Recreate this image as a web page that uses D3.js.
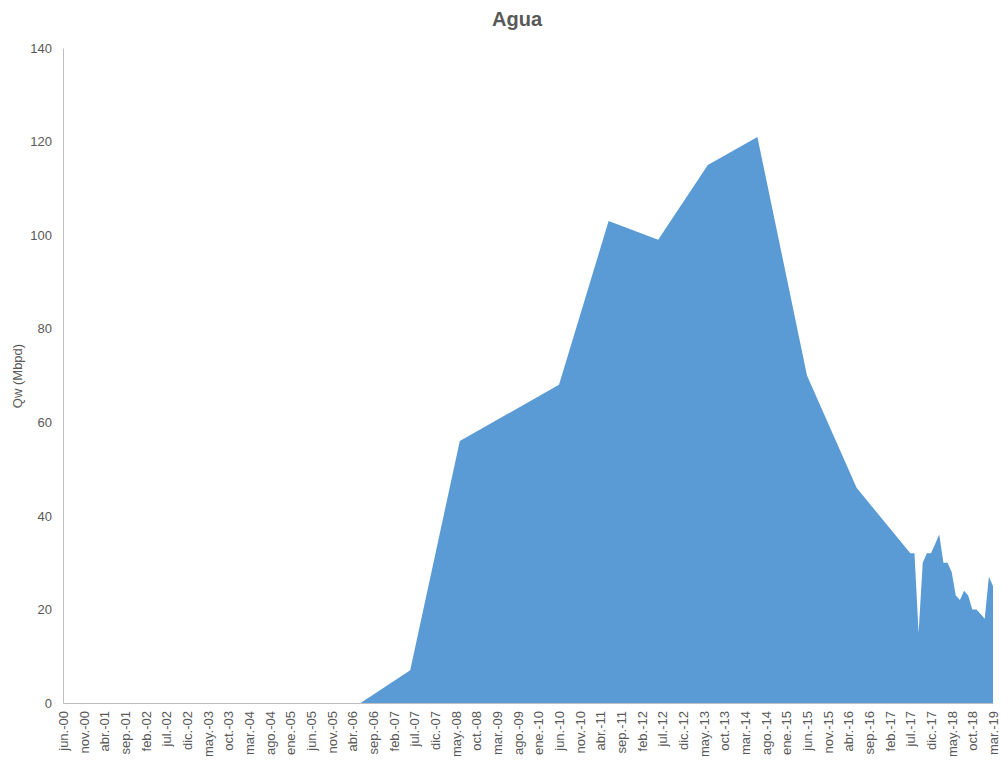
<!DOCTYPE html>
<html>
<head>
<meta charset="utf-8">
<script src="https://cdn.jsdelivr.net/npm/d3@7"></script>
<style>
  body { margin: 0; background: #fff; }
  text { font-family: "Liberation Sans", Arial, sans-serif; }
</style>
</head>
<body>
<svg id="chart" width="1001" height="762"></svg>
<script>
// Month names (Spanish abbreviations) and category range
const monthNames = ["ene.", "feb.", "mar.", "abr.", "may.", "jun.", "jul.", "ago.", "sep.", "oct.", "nov.", "dic."];
const startYear = 2000, startMonth = 5;   // jun.-00
const endYear = 2019, endMonth = 2;       // mar.-19
const categories = [];
for (let yy = startYear, m = startMonth; yy < endYear || (yy === endYear && m <= endMonth); ) {
  categories.push(monthNames[m] + "-" + String(yy % 100).padStart(2, "0"));
  m++; if (m === 12) { m = 0; yy++; }
}
const tickEvery = 5;

// Series: dates with data and their water rates (Mbpd)
const pointDates = ["jun.-00", "jun.-01", "jun.-02", "jun.-03", "jun.-04", "jun.-05", "jun.-06",
  "jun.-07", "jun.-08", "jun.-10", "jun.-11", "jun.-12", "jun.-13", "jun.-14", "jun.-15", "jun.-16",
  "jul.-17", "ago.-17", "sep.-17", "oct.-17", "nov.-17", "dic.-17", "ene.-18", "feb.-18", "mar.-18",
  "abr.-18", "may.-18", "jun.-18", "jul.-18", "ago.-18", "sep.-18", "oct.-18", "nov.-18", "dic.-18",
  "ene.-19", "feb.-19", "mar.-19"];
const qwValues = [0, 0, 0, 0, 0, 0, 0,
  7, 56, 68, 103, 99, 115, 121, 70, 46,
  32, 32, 15, 30, 32, 32, 34, 36, 30,
  30, 28, 23, 22, 24, 23, 20, 20, 19,
  18, 27, 25];

const yTicks = [0, 20, 40, 60, 80, 100, 120, 140];
const chartTitle = "Agua";
const yTitle = "Qw (Mbpd)";

(function () {
  const svg = d3.select("#chart");
  const pLeft = 63, pRight = 993, pTop = 48, pBottom = 703;

  const x = d3.scaleLinear().domain([0, categories.length - 1]).range([pLeft, pRight]);
  const y = d3.scaleLinear().domain([0, 140]).range([pBottom, pTop]);

  const data = pointDates.map((d, i) => ({ idx: categories.indexOf(d), v: qwValues[i] }));

  // area
  svg.append("path")
    .datum(data)
    .attr("fill", "#5b9bd5")
    .attr("d", d3.area().x(d => x(d.idx)).y0(y(0)).y1(d => y(d.v)));

  // y axis
  const yAxis = d3.axisLeft(y).tickValues(yTicks).tickSize(0).tickPadding(11);
  const gy = svg.append("g").attr("transform", `translate(${pLeft},0)`).call(yAxis);
  gy.select(".domain").attr("stroke", "#bfbfbf");
  gy.selectAll("text").attr("fill", "#595959").style("font-size", "13px");

  // x axis
  const tickIdx = d3.range(0, categories.length, tickEvery);
  const xAxis = d3.axisBottom(x).tickValues(tickIdx).tickSize(0).tickFormat(i => categories[i]);
  const gx = svg.append("g").attr("transform", `translate(0,${pBottom})`).call(xAxis);
  gx.select(".domain").attr("stroke", "#bfbfbf");
  gx.selectAll("text")
    .attr("fill", "#595959")
    .style("font-size", "13px")
    .attr("transform", "rotate(-90)")
    .attr("text-anchor", "end")
    .attr("x", -8)
    .attr("y", 0)
    .attr("dy", "0.35em");

  // title
  svg.append("text")
    .attr("x", 517).attr("y", 26)
    .attr("text-anchor", "middle")
    .attr("fill", "#595959")
    .style("font-size", "20px")
    .style("font-weight", "bold")
    .text(chartTitle);

  // y title
  svg.append("text")
    .attr("transform", "translate(22,376) rotate(-90)")
    .attr("text-anchor", "middle")
    .attr("fill", "#595959")
    .style("font-size", "13px")
    .text(yTitle);
})();
</script>
</body>
</html>
